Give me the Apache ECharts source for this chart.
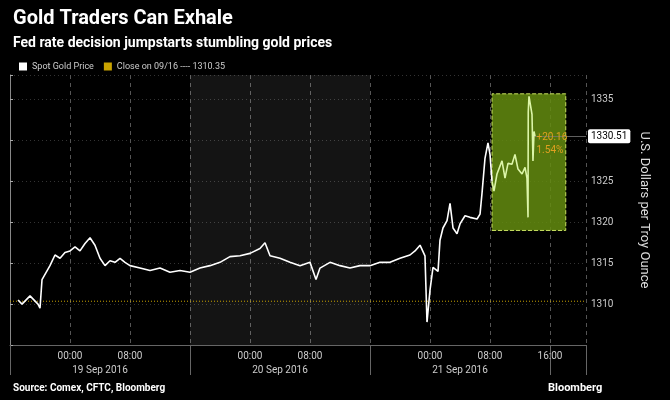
<!DOCTYPE html>
<html>
<head>
<meta charset="utf-8">
<script src="https://cdn.jsdelivr.net/npm/echarts@6/dist/echarts.min.js"></script>
<style>
  html, body { margin: 0; padding: 0; background: #000; }
  #root { width: 670px; height: 400px; }
</style>
</head>
<body>
<div id="root"></div>
<script>
// hours since 18 Sep 2016 16:00
const hours = [1.07, 1.6, 2.67, 3.73, 4.0, 4.27, 5.33, 6.0, 6.67, 7.33, 8.0, 8.67, 9.33, 10.0, 10.67, 11.33,
  12.0, 12.67, 13.33, 14.0, 14.67, 15.33, 16.0, 17.33, 18.67, 20.0, 21.33, 22.67, 24.0, 25.33, 26.67, 28.0,
  29.33, 30.67, 32.0, 33.33, 34.0, 34.67, 36.0, 37.33, 38.67, 40.0, 40.8, 41.33, 42.67, 44.0, 45.33, 46.67,
  48.0, 49.33, 50.67, 52.0, 53.33, 54.0, 54.67, 55.33, 55.6, 56.0, 56.4, 57.07, 57.33, 57.73, 58.27, 58.67,
  59.07, 59.6, 60.0, 60.67, 61.33, 62.27, 62.67, 62.93, 63.33, 63.73, 64.0, 64.27, 64.53, 64.93, 65.6, 66.0,
  66.4, 66.93, 67.33, 67.73, 68.27, 68.67, 68.93, 69.07, 69.1, 69.2, 69.6, 69.73, 69.87, 70.0];
const prices = [1310.5, 1310.0, 1311.0, 1310.0, 1309.5, 1313.0, 1314.7, 1316.0, 1315.6, 1316.3, 1316.5, 1317.0,
  1316.5, 1317.4, 1318.1, 1317.2, 1315.6, 1314.7, 1315.3, 1315.1, 1315.6, 1315.1, 1314.7, 1314.4, 1314.1, 1314.4,
  1313.9, 1314.1, 1313.9, 1314.4, 1314.7, 1315.1, 1315.8, 1315.9, 1316.2, 1316.8, 1317.5, 1315.9, 1315.6, 1315.1,
  1314.7, 1315.1, 1313.0, 1314.4, 1315.1, 1314.7, 1314.4, 1314.7, 1314.7, 1315.1, 1315.1, 1315.6, 1316.0, 1316.5,
  1317.2, 1315.9, 1307.8, 1311.7, 1314.5, 1314.0, 1317.8, 1319.3, 1320.2, 1322.3, 1319.3, 1318.6, 1319.8, 1320.8,
  1320.6, 1320.4, 1321.0, 1323.5, 1327.8, 1329.7, 1328.3, 1325.0, 1323.8, 1325.9, 1327.5, 1325.4, 1327.2, 1327.1,
  1328.3, 1326.5, 1325.9, 1326.7, 1325.4, 1320.6, 1333.5, 1335.4, 1333.2, 1327.5, 1331.1, 1330.51];
const closeValue = 1310.35;
const lastValue = 1330.51;
const changeText = ['+20.16', '1.54%'];
const yTicks = [1310, 1315, 1320, 1325, 1330, 1335];
const dateLabels = { 12: '19 Sep 2016', 36: '20 Sep 2016', 60: '21 Sep 2016' };
const highlightStart = 64.27; // hour where the Fed-decision box begins

const hourLabel = h => {
  if (h === 0 || h === 24 || h === 48) return '';
  const hh = (h + 16) % 24;
  return (hh < 10 ? '0' : '') + hh + ':00';
};

const data = hours.map((h, i) => [h, prices[i]]);
const whiteData = data.filter(d => d[0] <= highlightStart);
const greenData = data.filter(d => d[0] >= highlightStart);
const lastHour = hours[hours.length - 1];
const xMax = 76.8;
const chart = echarts.init(document.getElementById('root'));
const font = 'Roboto';

chart.setOption({
  backgroundColor: '#000',
  animation: false,
  textStyle: { fontFamily: font },
  title: [
    { text: 'Gold Traders Can Exhale', left: 8, top: 4,
      textStyle: { color: '#fff', fontSize: 20, fontWeight: 'bold', fontFamily: font } },
    { text: 'Fed rate decision jumpstarts stumbling gold prices', left: 8, top: 31,
      textStyle: { color: '#fff', fontSize: 14, fontWeight: 'bold', fontFamily: font } },
    { text: 'Source: Comex, CFTC, Bloomberg', left: 8, top: 378,
      textStyle: { color: '#fff', fontSize: 10, fontWeight: 'bold', fontFamily: font } },
    { text: 'Bloomberg', left: 543, top: 378,
      textStyle: { color: '#fff', fontSize: 11, fontWeight: 'bold', fontFamily: font } }
  ],
  legend: {
    left: 14, top: 57, itemWidth: 8, itemHeight: 8, itemGap: 10, icon: 'rect',
    textStyle: { color: '#ccc', fontSize: 9 },
    data: [
      { name: 'Spot Gold Price', itemStyle: { color: '#fff' } },
      { name: 'Close on 09/16 ---- 1310.35', itemStyle: { color: '#c9a300' } }
    ]
  },
  grid: { left: 10, right: 84, top: 75, bottom: 55 },
  xAxis: [
    { type: 'value', min: 0, max: xMax, interval: 8,
      axisLine: { show: true, lineStyle: { color: '#666' } },
      axisTick: { show: false },
      axisLabel: { color: '#ccc', fontSize: 10, margin: 6, formatter: hourLabel, showMaxLabel: false },
      splitLine: { show: true, lineStyle: { color: '#555', type: [4, 4] } } },
    { type: 'value', min: 0, max: xMax, interval: 12, position: 'bottom',
      axisLine: { show: false }, axisTick: { show: false },
      axisLabel: { color: '#ccc', fontSize: 10, margin: 20,
        formatter: v => dateLabels[v] || '', showMaxLabel: false },
      splitLine: { show: false } },
    { type: 'value', min: 0, max: xMax, interval: 24, position: 'bottom',
      axisLine: { show: false },
      axisTick: { show: true, length: 30, lineStyle: { color: '#666' } },
      axisLabel: { show: false }, splitLine: { show: false } }
  ],
  yAxis: {
    type: 'value', position: 'right', min: 1305, max: 1338, interval: 5,
    name: 'U.S. Dollars per Troy Ounce', nameLocation: 'middle', nameGap: 52, nameRotate: -90,
    nameTextStyle: { color: '#ddd', fontSize: 13 },
    axisLine: { show: true, lineStyle: { color: '#888' } },
    axisTick: { show: true, length: 3, lineStyle: { color: '#aaa' } },
    axisLabel: { color: '#ccc', fontSize: 10, margin: 5,
      formatter: v => yTicks.includes(v) ? String(v) : '' },
    splitLine: { show: true, lineStyle: { color: '#333', type: [1, 3] } }
  },
  series: [
    {
      name: 'Spot Gold Price', type: 'line', data: whiteData, showSymbol: false, z: 5,
      lineStyle: { width: 1.6, color: '#fff' }, itemStyle: { color: '#fff' },
      markArea: {
        silent: true,
        itemStyle: { color: 'rgba(255,255,255,0.08)' },
        data: [[{ xAxis: 24, yAxis: 1305 }, { xAxis: 48, yAxis: 1338 }]]
      }
    },
    {
      name: 'Highlight', type: 'line', data: greenData, showSymbol: false, z: 5,
      lineStyle: { width: 1.6, color: '#dcf5a8' }, itemStyle: { color: '#dcf5a8' },
      markArea: {
        silent: true,
        itemStyle: { color: 'rgba(100,140,15,0.85)', borderColor: '#c8e060', borderWidth: 1, borderType: 'dashed' },
        data: [[{ xAxis: highlightStart, yAxis: 1319.0 }, { xAxis: 74.1, yAxis: 1335.7 }]]
      },
      markLine: {
        silent: true, symbol: 'none',
        lineStyle: { color: '#777', width: 0.8, type: 'solid' },
        label: { show: true, position: 'end', distance: 2, color: '#000', backgroundColor: '#fff',
          borderRadius: 2, padding: [2, 3], fontSize: 10, formatter: String(lastValue) },
        data: [[{ coord: [lastHour, lastValue] }, { coord: [xMax, lastValue] }]]
      },
      markPoint: {
        silent: true, symbol: 'circle', symbolSize: 1,
        itemStyle: { color: 'transparent' },
        label: { show: true, position: 'right', distance: 1, color: '#e0a020', fontSize: 10,
          lineHeight: 13, formatter: changeText.join('\n'), offset: [0, 8] },
        data: [{ coord: [lastHour, lastValue] }]
      }
    },
    {
      name: 'Close on 09/16 ---- 1310.35', type: 'line', showSymbol: false, z: 3,
      data: [[0, closeValue], [xMax, closeValue]],
      lineStyle: { color: '#c9a300', width: 1, type: [1, 2] }, itemStyle: { color: '#c9a300' }
    }
  ]
});
</script>
</body>
</html>
